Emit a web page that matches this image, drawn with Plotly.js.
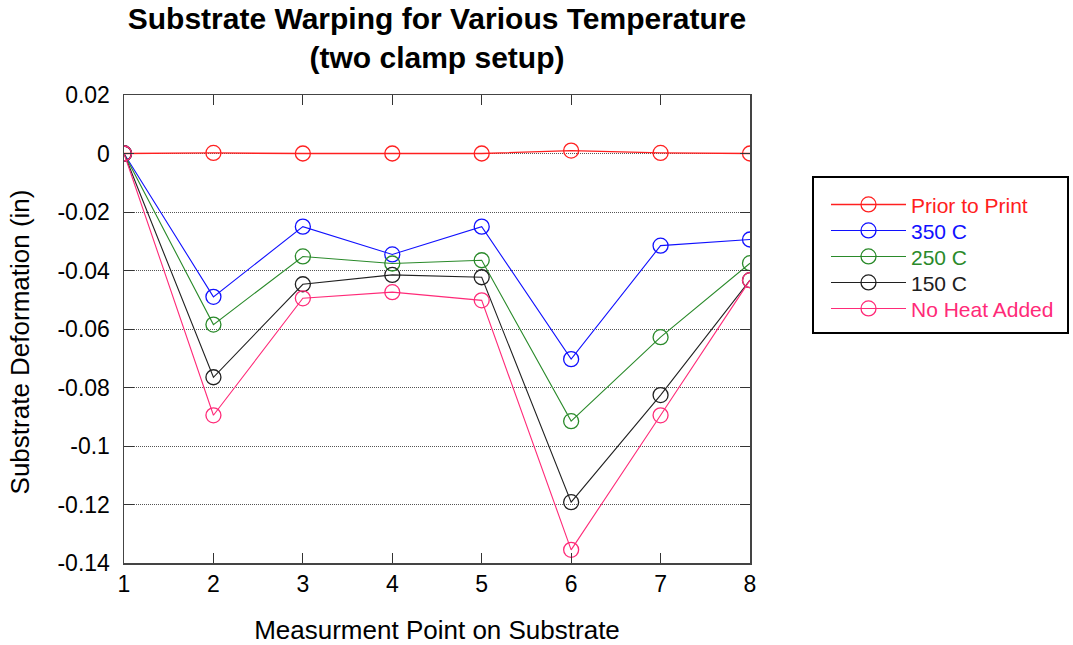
<!DOCTYPE html>
<html>
<head>
<meta charset="utf-8">
<script src="https://cdn.plot.ly/plotly-3.0.1.min.js"></script>
<style>html,body{margin:0;padding:0;background:#fff;}#chart{width:1073px;height:645px;}</style>
</head>
<body>
<div id="chart"></div>
<script>
const points = [1, 2, 3, 4, 5, 6, 7, 8];
const priorToPrint = [0, 0.0002, 0, 0, 0, 0.001, 0.0002, 0];
const c350 = [0, -0.049, -0.025, -0.0345, -0.025, -0.0703, -0.0315, -0.0294];
const c250 = [0, -0.0585, -0.0352, -0.0376, -0.0365, -0.0915, -0.0628, -0.0375];
const c150 = [0, -0.0765, -0.0447, -0.0415, -0.0423, -0.1192, -0.0826, -0.0433];
const noHeat = [0, -0.0895, -0.0495, -0.0474, -0.0502, -0.1355, -0.0895, -0.0433];
const seriesNames = ["Prior to Print", "350 C", "250 C", "150 C", "No Heat Added"];
const seriesColors = ["#ff2020", "#1010ff", "#2a8a2a", "#202020", "#ff2a78"];
const yTickVals = [0.02, 0, -0.02, -0.04, -0.06, -0.08, -0.1, -0.12, -0.14];
const yTickText = ["0.02", "0", "-0.02", "-0.04", "-0.06", "-0.08", "-0.1", "-0.12", "-0.14"];

const seriesData = [priorToPrint, c350, c250, c150, noHeat];
const traces = seriesData.map((ys, i) => ({
  x: points, y: ys, name: seriesNames[i], type: "scatter", mode: "lines+markers",
  line: {color: seriesColors[i], width: i === 0 ? 1.4 : 1.1},
  marker: {symbol: "circle-open", size: 15, color: seriesColors[i], line: {width: 1.3, color: seriesColors[i]}}
}));

const font = "'Liberation Sans', Arial, sans-serif";
const layout = {
  width: 1073, height: 645,
  margin: {l: 124, r: 323, t: 95, b: 82},
  paper_bgcolor: "#fff", plot_bgcolor: "#fff",
  title: {text: "<b>Substrate Warping for Various Temperature<br>(two clamp setup)</b>",
    font: {family: font, size: 30, color: "#000"}, x: 0.5, xref: "paper", xanchor: "center",
    y: 1, yref: "paper", yanchor: "bottom", pad: {b: 66}},
  xaxis: {range: [1, 8], tickvals: points, ticks: "inside", ticklen: 10, tickcolor: "#333",
    showgrid: false, zeroline: false, showline: true, linecolor: "#444", linewidth: 1.5, mirror: "ticks",
    tickfont: {family: font, size: 23, color: "#000"},
    title: {text: "Measurment Point on Substrate", font: {family: font, size: 26, color: "#000"}, standoff: 26}},
  yaxis: {range: [-0.14, 0.02], tickvals: yTickVals, ticktext: yTickText, ticks: "inside", ticklen: 10, tickcolor: "#333",
    showgrid: true, gridcolor: "#555", griddash: "1px,1px", gridwidth: 1, zeroline: false,
    showline: true, linecolor: "#444", linewidth: 1.5, mirror: "ticks", ticklabelstandoff: 8,
    tickfont: {family: font, size: 23, color: "#000"},
    title: {text: "Substrate Deformation (in)", font: {family: font, size: 26, color: "#000"}, standoff: 20}},
  legend: {x: (824 - 124) / 626, y: 0.826, xanchor: "left", yanchor: "top", traceorder: "normal",
    bgcolor: "#fff", bordercolor: "#000", borderwidth: 2,
    font: {family: font, size: 21, color: "#000"}, itemwidth: 75},
  showlegend: true
};

Plotly.newPlot("chart", traces, layout, {displayModeBar: false, staticPlot: true}).then(() => {
  const items = Array.from(document.querySelectorAll(".legend .traces"));
  items.forEach(el => {
    const txt = el.querySelector("text.legendtext");
    const idx = seriesNames.indexOf(txt.textContent);
    if (idx >= 0) txt.style.fill = seriesColors[idx];
  });
  const bg = document.querySelector(".legend rect.bg");
  if (bg) {
    const w = parseFloat(bg.getAttribute("width"));
    const x = parseFloat(bg.getAttribute("x") || 0);
    const y = parseFloat(bg.getAttribute("y") || 0);
    bg.setAttribute("x", x - 12);
    bg.setAttribute("width", w + 20);
    items.forEach((el, i) => {
      const tr = el.getAttribute("transform") || "";
      const m = tr.match(/translate\(\s*([-\d.]+)[ ,]+([-\d.]+)\s*\)/);
      const tx = m ? parseFloat(m[1]) : 0;
      el.setAttribute("transform", "translate(" + tx + "," + (y + 27 + 26 * i) + ")");
    });
    bg.setAttribute("height", 27 + 26 * (items.length - 1) + 25);
  }
  const yt = document.querySelector(".g-ytitle");
  if (yt) yt.setAttribute("transform", "translate(0,13)");
});
</script>
</body>
</html>
